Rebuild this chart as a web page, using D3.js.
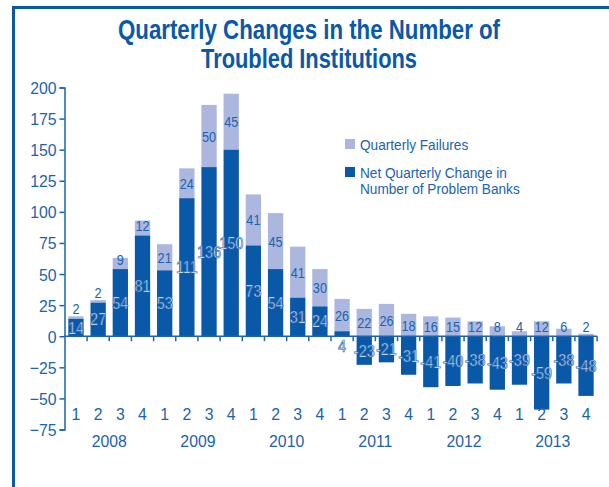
<!DOCTYPE html>
<html>
<head>
<meta charset="utf-8">
<script src="https://cdn.jsdelivr.net/npm/d3@7"></script>
<style>
  body { margin: 0; background: #fff; }
  text { font-family: "Liberation Sans", Arial, sans-serif; }
</style>
</head>
<body>
<div id="chart"></div>
<script>
const WIDTH = 609, HEIGHT = 487;

// data
const years = ["2008", "2009", "2010", "2011", "2012", "2013"];
const quarters = ["1", "2", "3", "4"];
const netChange = [14, 27, 54, 81, 53, 111, 136, 150, 73, 54, 31, 24, 4, -23, -21, -31, -41, -40, -38, -43, -39, -59, -38, -48];
const failures = [2, 2, 9, 12, 21, 24, 50, 45, 41, 45, 41, 30, 26, 22, 26, 18, 16, 15, 12, 8, 4, 12, 6, 2];
const yTicks = [-75, -50, -25, 0, 25, 50, 75, 100, 125, 150, 175, 200];

const DARK = "#0a59a9", LIGHT = "#abb7de", BLUE = "#1b63b0";

const cats = [];
years.forEach(y => quarters.forEach(q => cats.push(y + "Q" + q)));
const rows = cats.map((c, i) => ({
  key: c, q: quarters[i % 4], net: netChange[i], fail: failures[i],
  base: Math.max(0, netChange[i])
}));

const svg = d3.select("#chart").append("svg")
  .attr("width", WIDTH)
  .attr("height", HEIGHT);

// squeeze text horizontally (the original uses a condensed face)
function narrow(sel, fx, fy, sx) {
  sel.attr("transform", (d, i) => `translate(${fx(d, i)},${fy(d, i)}) scale(${sx},1)`);
}

// frame
svg.append("path")
  .attr("d", `M13.5,${HEIGHT} V7.5 H${WIDTH}`)
  .attr("fill", "none")
  .attr("stroke", DARK)
  .attr("stroke-width", 3);

// title
const titleLines = [
  { t: "Quarterly Changes in the Number of", y: 39, w: 382 },
  { t: "Troubled Institutions", y: 68, w: 216 }
];
svg.append("g").selectAll("text").data(titleLines).enter().append("text")
  .attr("x", d => 309 - d.w / 2).attr("y", d => d.y)
  .attr("textLength", d => d.w)
  .attr("lengthAdjust", "spacingAndGlyphs")
  .attr("font-size", 28).attr("font-weight", "bold")
  .attr("fill", DARK)
  .text(d => d.t);

const x = d3.scaleBand().domain(cats).range([65, 597]).paddingInner(0.31).paddingOuter(0.15);
const y = d3.scaleLinear().domain([-75, 200]).range([429.5, 87.5]);

// bars
const g = svg.append("g");
g.selectAll("rect.fail").data(rows).enter().append("rect")
  .attr("class", "fail")
  .attr("x", d => x(d.key))
  .attr("width", x.bandwidth())
  .attr("y", d => y(d.base + d.fail))
  .attr("height", d => y(d.base) - y(d.base + d.fail))
  .attr("fill", LIGHT);

g.selectAll("rect.net").data(rows).enter().append("rect")
  .attr("class", "net")
  .attr("x", d => x(d.key))
  .attr("width", x.bandwidth())
  .attr("y", d => y(Math.max(0, d.net)))
  .attr("height", d => Math.abs(y(d.net) - y(0)))
  .attr("fill", DARK);

// y axis
const yAxis = svg.append("g")
  .attr("transform", "translate(64.5,0)")
  .call(d3.axisLeft(y).tickValues(yTicks).tickSize(5).tickPadding(3));
yAxis.select(".domain").attr("stroke", BLUE).attr("stroke-width", 1.5);
yAxis.selectAll(".tick line").attr("stroke", BLUE).attr("stroke-width", 1.5);
yAxis.selectAll(".tick text")
  .attr("fill", BLUE)
  .attr("font-size", 17)
  .attr("x", null).attr("dy", null)
  .attr("transform", "translate(-8,6) scale(0.93,1)")
  .style("font-family", '"Liberation Sans", Arial, sans-serif');

// x axis line at zero with ticks between quarters
const x0 = y(0);
const xStep = x.step();
const bounds = d3.range(cats.length + 1).map(i => x(cats[0]) - x.paddingInner() * xStep / 2 + i * xStep);
svg.append("line")
  .attr("x1", 64).attr("x2", bounds[bounds.length - 1])
  .attr("y1", x0).attr("y2", x0)
  .attr("stroke", BLUE).attr("stroke-width", 1.5);
svg.append("g").selectAll("line").data(bounds.slice(1)).enter().append("line")
  .attr("x1", d => d).attr("x2", d => d)
  .attr("y1", x0).attr("y2", x0 + 5)
  .attr("stroke", BLUE).attr("stroke-width", 1.5);

// quarter labels
svg.append("g").selectAll("text").data(rows).enter().append("text")
  .attr("text-anchor", "middle")
  .attr("font-size", 17)
  .attr("fill", BLUE)
  .text(d => d.q)
  .call(narrow, d => x(d.key) + x.bandwidth() / 2, () => 420, 0.93);

// year labels
svg.append("g").selectAll("text").data(years).enter().append("text")
  .attr("text-anchor", "middle")
  .attr("font-size", 17)
  .attr("fill", BLUE)
  .text(yr => yr)
  .call(narrow, yr => (x(yr + "Q2") + x(yr + "Q3") + x.bandwidth()) / 2, () => 447, 0.93);

// failure labels
svg.append("g").selectAll("text").data(rows).enter().append("text")
  .attr("text-anchor", "middle")
  .attr("font-size", 15.5)
  .attr("fill", BLUE)
  .text(d => d.fail)
  .call(narrow, d => x(d.key) + x.bandwidth() / 2, d => {
    const mid = (y(d.base) + y(d.base + d.fail)) / 2;
    return Math.min(mid, y(d.base) - 10) + 5.5;
  }, 0.82);

// net change labels (white with blue outline)
svg.append("g").selectAll("text").data(rows).enter().append("text")
  .attr("text-anchor", "middle")
  .attr("font-size", 17)
  .attr("fill", "#fff")
  .attr("stroke", BLUE)
  .attr("stroke-width", 0.7)
  .text(d => d.net)
  .call(narrow, d => x(d.key) + x.bandwidth() / 2, d => {
    const h = Math.abs(y(d.net) - y(0));
    const c = h < 12 ? x0 + 10 : (y(d.net) + y(0)) / 2;
    return c + 6;
  }, 0.85);

// legend
const legend = [
  { color: LIGHT, lines: ["Quarterly Failures"], y: 144 },
  { color: DARK, lines: ["Net Quarterly Change in", "Number of Problem Banks"], y: 172 }
];
const lg = svg.append("g").selectAll("g").data(legend).enter().append("g")
  .attr("transform", d => `translate(345,${d.y})`);
lg.append("rect")
  .attr("x", 0).attr("y", -5).attr("width", 10).attr("height", 10)
  .attr("fill", d => d.color);
lg.append("g")
  .attr("transform", "translate(15,5.5) scale(0.88,1)")
  .append("text")
  .attr("font-size", 15.5)
  .attr("fill", BLUE)
  .selectAll("tspan").data(d => d.lines).enter().append("tspan")
  .attr("x", 0)
  .attr("dy", (d, i) => i ? 17 : 0)
  .text(d => d);
</script>
</body>
</html>
